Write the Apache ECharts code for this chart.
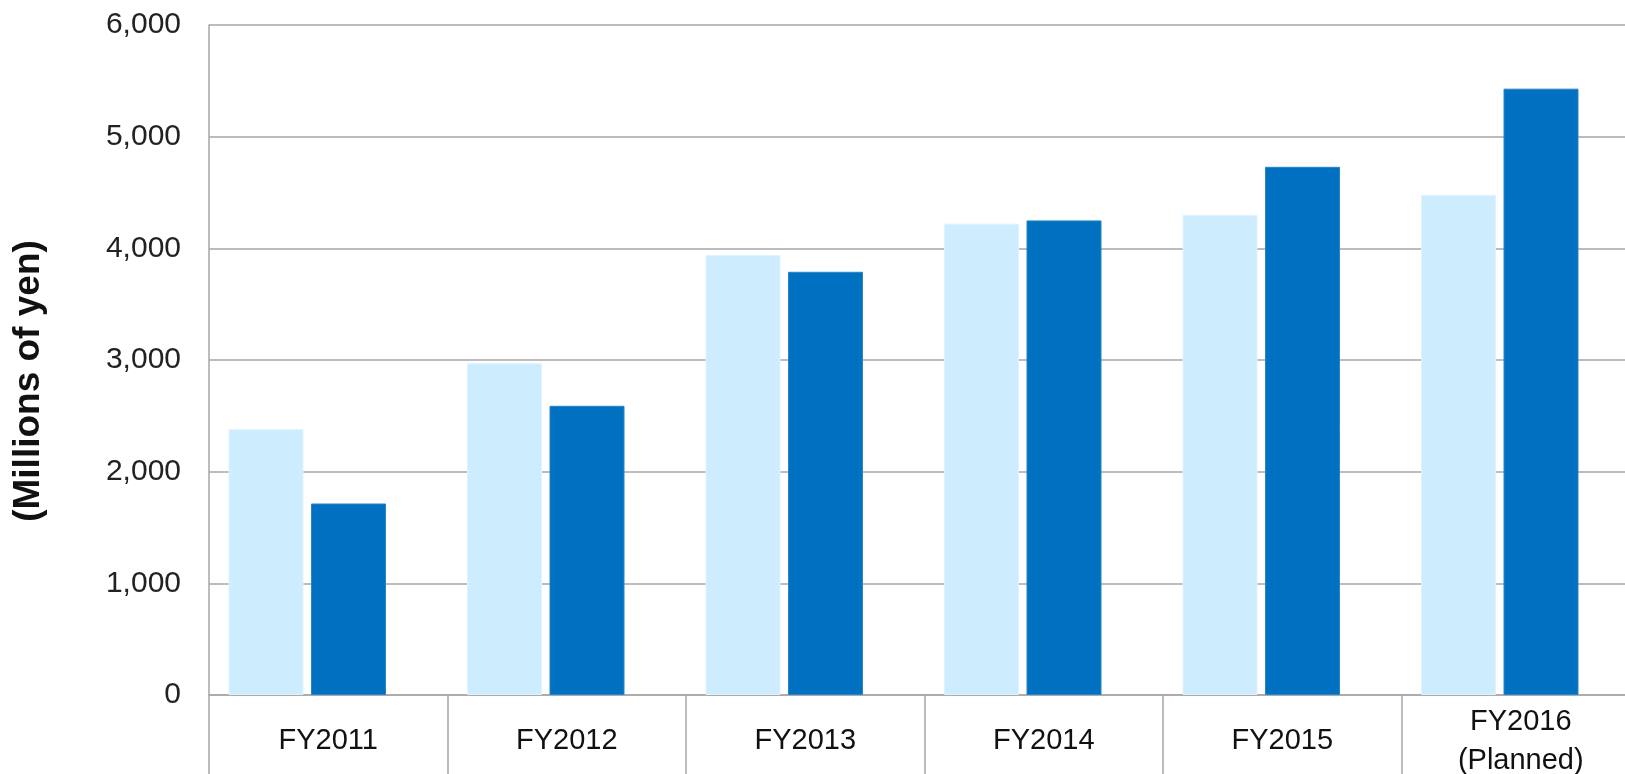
<!DOCTYPE html>
<html>
<head>
<meta charset="utf-8">
<script src="https://cdn.jsdelivr.net/npm/echarts@6/dist/echarts.min.js"></script>
<style>
  html, body { margin: 0; padding: 0; background: #fff; }
  #main { width: 1625px; height: 774px; }
</style>
</head>
<body>
<div id="main"></div>
<script>
var categories = ['FY2011', 'FY2012', 'FY2013', 'FY2014', 'FY2015', 'FY2016\n(Planned)'];
var lightValues = [2380, 2970, 3940, 4220, 4300, 4480];
var darkValues = [1715, 2590, 3790, 4250, 4730, 5430];
var yTicks = [0, 1000, 2000, 3000, 4000, 5000, 6000];

var myChart = echarts.init(document.getElementById('main'));
var font = 'Liberation Sans, Arial, sans-serif';
var gridColor = '#a6a6a6';

var option = {
    backgroundColor: '#ffffff',
    animation: false,
    grid: [
        // axes, labels and gridlines
        { left: 209, top: 25, width: 1431, height: 670, containLabel: false, outerBoundsMode: 'none' },
        // bars sit a bit left of the category centre, like the original
        { left: 188, top: 25, width: 1431, height: 670, containLabel: false, outerBoundsMode: 'none' }
    ],
    xAxis: [{
        gridIndex: 0,
        type: 'category',
        data: categories,
        axisLine: { lineStyle: { color: gridColor, width: 1.5 } },
        axisTick: { show: true, length: 90, lineStyle: { color: gridColor, width: 1.5 } },
        axisLabel: {
            color: '#111',
            fontFamily: font,
            fontSize: 29,
            lineHeight: 39,
            margin: 46,
            verticalAlign: 'middle'
        }
    }, {
        gridIndex: 1,
        type: 'category',
        data: categories,
        show: false
    }],
    yAxis: [{
        gridIndex: 0,
        type: 'value',
        min: yTicks[0],
        max: yTicks[yTicks.length - 1],
        interval: 1000,
        name: '(Millions of yen)',
        nameLocation: 'middle',
        nameGap: 180,
        nameRotate: 90,
        nameTextStyle: {
            color: '#111',
            fontFamily: font,
            fontWeight: 'bold',
            fontSize: 37,
            padding: [0, 42, 0, 0],
            verticalAlign: 'middle'
        },
        axisLine: { show: true, lineStyle: { color: gridColor, width: 1.5 } },
        axisTick: { show: false },
        axisLabel: {
            color: '#222',
            fontFamily: font,
            fontSize: 30,
            margin: 28,
            formatter: function (v) { return echarts.format.addCommas(v); }
        },
        splitLine: { lineStyle: { color: gridColor, width: 1.5 } }
    }, {
        gridIndex: 1,
        type: 'value',
        min: yTicks[0],
        max: yTicks[yTicks.length - 1],
        show: false,
        splitLine: { show: false }
    }],
    series: [{
        type: 'bar',
        xAxisIndex: 1,
        yAxisIndex: 1,
        data: lightValues,
        barWidth: 75,
        barGap: '10%',
        itemStyle: { color: '#cdecfd', borderColor: '#dff3ff', borderWidth: 1 }
    }, {
        type: 'bar',
        xAxisIndex: 1,
        yAxisIndex: 1,
        data: darkValues,
        barWidth: 75,
        barGap: '10%',
        itemStyle: { color: '#0070c0', borderColor: '#2a84c8', borderWidth: 1 }
    }]
};
myChart.setOption(option);
</script>
</body>
</html>
